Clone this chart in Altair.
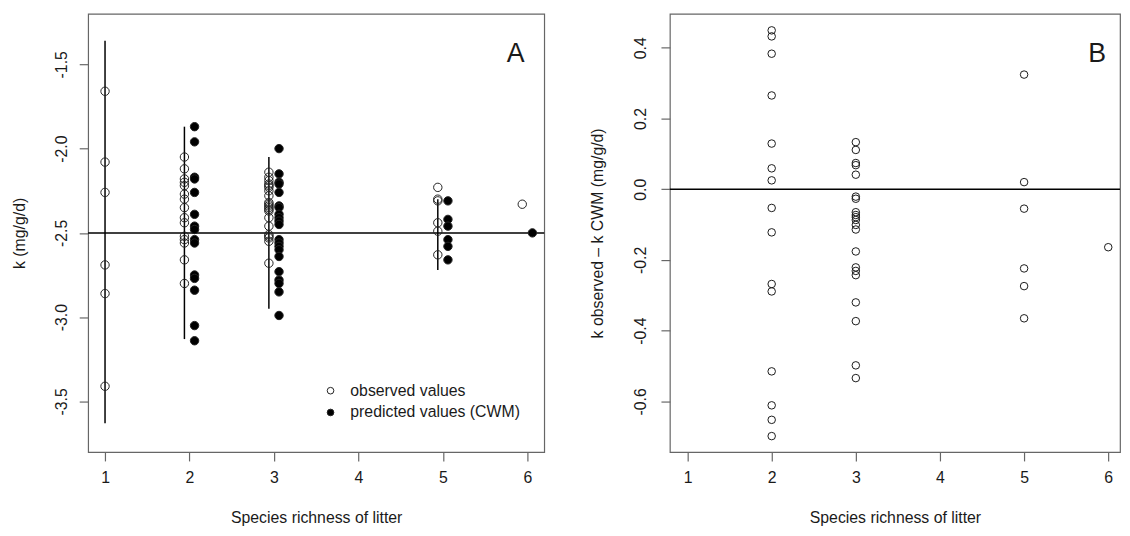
import altair as alt
import pandas as pd

FONT = "Liberation Sans"
BOX = "#666666"
TXT = "#1a1a1a"

# ---------------- Panel A data ----------------
observed_A = {
    1: [-1.66, -2.08, -2.26, -2.69, -2.86, -3.41],
    2: [-2.05, -2.12, -2.18, -2.20, -2.22, -2.27, -2.30, -2.35, -2.41, -2.44,
        -2.52, -2.54, -2.56, -2.66, -2.80],
    3: [-2.14, -2.17, -2.19, -2.21, -2.22, -2.23, -2.25, -2.28, -2.32, -2.33,
        -2.34, -2.35, -2.36, -2.37, -2.41, -2.46, -2.51, -2.52, -2.53, -2.55, -2.68],
    5: [-2.23, -2.30, -2.31, -2.44, -2.49, -2.63],
    6: [-2.33],
}
predicted_A = {
    2: [-1.87, -1.96, -2.17, -2.18, -2.26, -2.39, -2.46, -2.48, -2.54, -2.56,
        -2.75, -2.77, -2.84, -3.05, -3.14],
    3: [-2.00, -2.15, -2.20, -2.21, -2.26, -2.34, -2.35, -2.39, -2.41, -2.43,
        -2.45, -2.54, -2.56, -2.58, -2.60, -2.64, -2.73, -2.78, -2.80, -2.85, -2.99],
    5: [-2.31, -2.42, -2.46, -2.54, -2.58, -2.66],
    6: [-2.50],
}
range_richness = [1, 2, 3, 5]
range_low = [-3.63, -3.13, -2.95, -2.72]
range_high = [-1.36, -1.87, -2.05, -2.30]
ref_line_A = [-2.5]

SERIES_OBS = "observed values"
SERIES_PRED = "predicted values (CWM)"

# ---------------- Panel B data ----------------
diff_B = {
    2: [0.449, 0.432, 0.383, 0.265, 0.129, 0.059, 0.025, -0.053, -0.122, -0.268,
        -0.289, -0.515, -0.611, -0.652, -0.698],
    3: [0.133, 0.111, 0.074, 0.068, 0.041, -0.021, -0.027, -0.065, -0.073, -0.079,
        -0.087, -0.101, -0.114, -0.176, -0.221, -0.231, -0.243, -0.320, -0.373,
        -0.498, -0.534],
    5: [0.324, 0.020, -0.055, -0.224, -0.274, -0.365],
    6: [-0.164],
}
ref_line_B = [0.0]

# ---------------- tables ----------------
rows = []
for r, vals in observed_A.items():
    for v in vals:
        rows.append({"richness": r, "k": v, "series": SERIES_OBS})
for r, vals in predicted_A.items():
    for v in vals:
        rows.append({"richness": r, "k": v, "series": SERIES_PRED})
dfA = pd.DataFrame(rows)
dfR = pd.DataFrame({"richness": range_richness, "k": range_low, "k2": range_high})
dfHA = pd.DataFrame({"k": ref_line_A})

rowsB = []
for r, vals in diff_B.items():
    for v in vals:
        rowsB.append({"richness": r, "d": v})
dfB = pd.DataFrame(rowsB)
dfHB = pd.DataFrame({"d": ref_line_B})

offset_expr = ("datum.richness + (datum.series == '%s' ? 0.06 : "
               "(datum.richness == 1 ? 0 : -0.06))" % SERIES_PRED)
range_offset_expr = "datum.richness + (datum.richness == 1 ? 0 : -0.06)"

X_TICKS = [1, 2, 3, 4, 5, 6]


def x_axis():
    return alt.Axis(values=X_TICKS, title="Species richness of litter",
                    labelPadding=9, titlePadding=24, tickSize=9, grid=False)


def y_axis(title, ticks, label_pad, title_pad):
    return alt.Axis(values=ticks, title=title, labelAngle=270,
                    labelAlign="center", labelBaseline="bottom",
                    labelPadding=label_pad, titlePadding=title_pad, tickSize=9,
                    grid=False,
                    labelExpr="replace(format(datum.value, '.1f'), '\u2212', '-')")


xA_scale = alt.Scale(domain=[0.8, 6.2], nice=False, zero=False)
yA_scale = alt.Scale(domain=[-3.8, -1.2], nice=False, zero=False)
yA_axis = y_axis("k (mg/g/d)", [-3.5, -3.0, -2.5, -2.0, -1.5], 10, 26)

pointsA = alt.Chart(dfA).transform_calculate(xpos=offset_expr).mark_point(
    shape="circle", filled=True, stroke="#222222", strokeWidth=1, size=72, opacity=1
).encode(
    x=alt.X("xpos:Q", scale=xA_scale, axis=x_axis()),
    y=alt.Y("k:Q", scale=yA_scale, axis=yA_axis),
    fill=alt.Fill("series:N",
                  scale=alt.Scale(domain=[SERIES_OBS, SERIES_PRED],
                                  range=["transparent", "black"]),
                  legend=alt.Legend(title=None, orient="none", legendX=237,
                                    legendY=373, symbolSize=45,
                                    symbolStrokeColor="#222222", symbolStrokeWidth=1,
                                    labelFontSize=16, labelFont=FONT, labelLimit=400,
                                    labelColor=TXT, labelOffset=12, rowPadding=6,
                                    padding=0, symbolType="circle")),
)

rulesA = alt.Chart(dfR).transform_calculate(xpos=range_offset_expr).mark_rule(
    color="black", strokeWidth=1.5
).encode(
    x=alt.X("xpos:Q", scale=xA_scale, axis=x_axis()),
    y=alt.Y("k:Q", scale=yA_scale, axis=yA_axis),
    y2="k2:Q",
)

hlineA = alt.Chart(dfHA).mark_rule(color="black", strokeWidth=1.5).encode(
    y=alt.Y("k:Q", scale=yA_scale, axis=yA_axis)
)

labelA = alt.Chart(alt.Data(values=[{"t": "A"}])).mark_text(
    fontSize=27, font=FONT, color=TXT
).encode(text="t:N", x=alt.value(432), y=alt.value(41))

panelA = alt.layer(rulesA, hlineA, pointsA, labelA).properties(width=461, height=443)

xB_scale = alt.Scale(domain=[0.79, 6.14], nice=False, zero=False)
yB_scale = alt.Scale(domain=[-0.743, 0.496], nice=False, zero=False)
yB_axis = y_axis("k observed \u2013 k CWM (mg/g/d)", [-0.6, -0.4, -0.2, 0.0, 0.2, 0.4], 13, 27)

pointsB = alt.Chart(dfB).mark_point(
    shape="circle", filled=False, color="#1a1a1a", strokeWidth=1, size=58, opacity=1
).encode(
    x=alt.X("richness:Q", scale=xB_scale, axis=x_axis()),
    y=alt.Y("d:Q", scale=yB_scale, axis=yB_axis),
)
hlineB = alt.Chart(dfHB).mark_rule(color="black", strokeWidth=1.5).encode(
    y=alt.Y("d:Q", scale=yB_scale, axis=yB_axis)
)
labelB = alt.Chart(alt.Data(values=[{"t": "B"}])).mark_text(
    fontSize=27, font=FONT, color=TXT
).encode(text="t:N", x=alt.value(432), y=alt.value(41))

panelB = alt.layer(hlineB, pointsB, labelB).properties(width=455, height=443)

chart = alt.hconcat(panelA, panelB, spacing=43).properties(
    padding={"left": 3, "top": 2, "right": 0, "bottom": 0},
    background="white",
).configure_view(
    stroke=BOX, strokeWidth=1.2
).configure_axis(
    domain=False, grid=False, tickColor=BOX, tickWidth=1.2,
    labelFont=FONT, labelFontSize=16, labelColor=TXT,
    titleFont=FONT, titleFontSize=16, titleColor=TXT, titleFontWeight="normal",
)

chart.save("out.html", embed_options={"renderer": "svg", "actions": False})
